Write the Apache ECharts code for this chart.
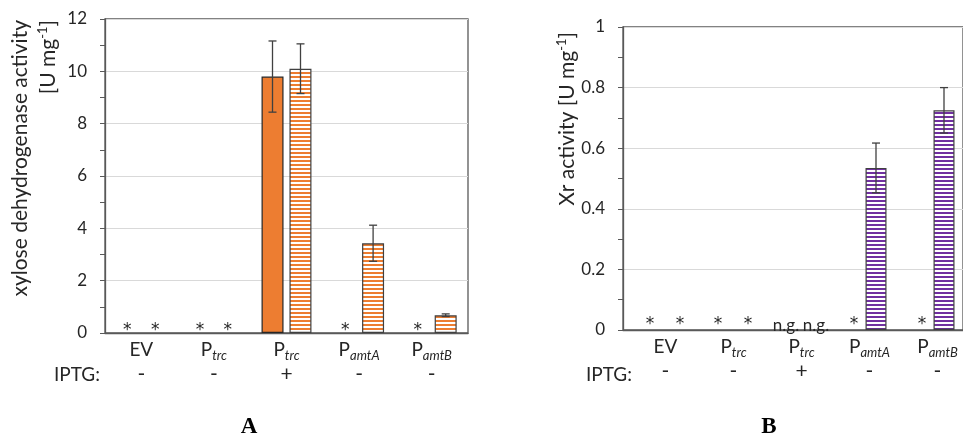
<!DOCTYPE html>
<html>
<head>
<meta charset="utf-8">
<script src="https://cdn.jsdelivr.net/npm/echarts@6/dist/echarts.min.js"></script>
<style>html,body{margin:0;padding:0;background:#fff}#c{width:963px;height:438px}</style>
</head>
<body>
<div id="c"></div>
<script>
// ---------- data ----------
const labelMain = ['EV', 'P', 'P', 'P', 'P'];
const labelSub = ['', 'trc', 'trc', 'amtA', 'amtB'];
const iptg = ['-', '-', '+', '-', '-'];

// Panel A: xylose dehydrogenase activity [U mg-1]
const aSolid = [0, 0, 9.8, 0, 0];
const aSolidErr = [0, 0, 1.36, 0, 0];
const aSolidMark = ['*', '*', '', '*', '*'];
const aStriped = [0, 0, 10.1, 3.43, 0.68];
const aStripedErr = [0, 0, 0.95, 0.69, 0.05];
const aStripedMark = ['*', '*', '', '', ''];

// Panel B: Xr activity [U mg-1]
const bSolid = [0, 0, 0, 0, 0];
const bSolidMark = ['*', '*', 'n.g.', '*', '*'];
const bStriped = [0, 0, 0, 0.535, 0.725];
const bStripedErr = [0, 0, 0, 0.082, 0.075];
const bStripedMark = ['*', '*', 'n.g.', '', ''];

const yTicksA = { min: 0, max: 12, interval: 2 };
const yTicksB = { min: 0, max: 1, interval: 0.2 };

// ---------- styles ----------
const FONT = 'Lato';
const TXT = '#262626';
const AXIS = '#595959';
const ORANGE = '#ED7D31';
const PURPLE = '#7030A0';

function stripes(color) {
  const c = document.createElement('canvas');
  c.width = 4; c.height = 4;
  const g = c.getContext('2d');
  g.fillStyle = '#ffffff'; g.fillRect(0, 0, 4, 4);
  g.fillStyle = color; g.fillRect(0, 0, 4, 2);
  return { image: c, repeat: 'repeat' };
}

const chart = echarts.init(document.getElementById('c'), null, { renderer: 'canvas' });

function catAxis(gridIndex, pad) {
  return {
    type: 'category', gridIndex, data: labelMain.map((m, i) => i),
    axisLine: { show: true, lineStyle: { color: AXIS, width: 1.3 } },
    axisTick: { show: false },
    axisLabel: {
      margin: 4, interval: 0, padding: [0, 0, 0, pad],
      formatter: (v, i) => `{m|${labelMain[i]}}{s|${labelSub[i]}}\n{g|${iptg[i]}}`,
      rich: {
        m: { fontFamily: FONT, fontSize: 19, color: TXT, lineHeight: 25 },
        s: { fontFamily: FONT, fontSize: 13, fontStyle: 'italic', color: TXT, lineHeight: 12, verticalAlign: 'bottom' },
        g: { fontFamily: FONT, fontSize: 21, color: TXT, lineHeight: 25 }
      }
    }
  };
}

function valAxis(gridIndex, t) {
  return {
    type: 'value', gridIndex, min: t.min, max: t.max, interval: t.interval,
    axisLine: { show: true, lineStyle: { color: AXIS, width: 1.3 } },
    axisTick: { show: true, inside: false, length: 5, lineStyle: { color: AXIS } },
    minorTick: { show: true, splitNumber: 2, length: 5, lineStyle: { color: AXIS } },
    axisLabel: { margin: 18, fontFamily: FONT, fontSize: 17, color: TXT },
    splitLine: { show: true, lineStyle: { color: '#d9d9d9', width: 1 } }
  };
}

function barSeries(idx, values, marks, color, borderColor, barWidth, barGap, labelOffset, labelDist) {
  return {
    type: 'bar', xAxisIndex: idx, yAxisIndex: idx, barWidth, barGap,
    data: values.map((v, i) => ({
      value: v,
      itemStyle: { color, borderColor, borderWidth: v === 0 ? 0 : 1.2 },
      label: marks[i] === 'n.g.' ? {
        show: true, formatter: marks[i], position: 'top', distance: -4, offset: labelOffset,
        fontFamily: FONT, fontSize: 17, color: TXT
      } : {
        show: marks[i] !== '', formatter: marks[i], position: 'top',
        distance: labelDist, offset: labelOffset,
        fontFamily: 'DejaVu Sans', fontSize: 17, color: TXT
      }
    })),
    silent: true, animation: false
  };
}

function errSeries(idx, values, errs, offset) {
  return {
    type: 'custom', xAxisIndex: idx, yAxisIndex: idx, z: 10, silent: true, animation: false,
    data: values.map((v, i) => [i, v, errs[i]]),
    encode: { x: 0, y: 1 },
    renderItem(params, api) {
      const i = api.value(0), v = api.value(1), e = api.value(2);
      if (!e) return null;
      const hi = api.coord([i, v + e]);
      const lo = api.coord([i, v - e]);
      const x = hi[0] + offset, cw = 4;
      const st = { stroke: '#404040', lineWidth: 1.3 };
      return {
        type: 'group', children: [
          { type: 'line', shape: { x1: x, y1: hi[1], x2: x, y2: lo[1] }, style: st },
          { type: 'line', shape: { x1: x - cw, y1: hi[1], x2: x + cw, y2: hi[1] }, style: st },
          { type: 'line', shape: { x1: x - cw, y1: lo[1], x2: x + cw, y2: lo[1] }, style: st }
        ]
      };
    }
  };
}

const supRich = { sup: { fontFamily: FONT, fontSize: 13, verticalAlign: 'top', lineHeight: 24, fill: TXT } };

// bar geometry: A width 22 gap 6 => offsets ±14 ; B width 21 gap 9 => ±15
const option = {
  animation: false,
  textStyle: { fontFamily: FONT },
  grid: [
    { left: 105, top: 19, width: 363, height: 314, show: true, borderColor: AXIS, borderWidth: 1.3 },
    { left: 623, top: 27, width: 345, height: 303, show: true, borderColor: AXIS, borderWidth: 1.3 }
  ],
  xAxis: [catAxis(0, 0), catAxis(1, 17)],
  yAxis: [valAxis(0, yTicksA), valAxis(1, yTicksB)],
  series: [
    barSeries(0, aSolid, aSolidMark, ORANGE, '#262626', 22, '27%', [0, 0], -6),
    barSeries(0, aStriped, aStripedMark, stripes(ORANGE), '#404040', 22, '27%', [0, 0], -6),
    errSeries(0, aSolid, aSolidErr, -14),
    errSeries(0, aStriped, aStripedErr, 14),
    barSeries(1, bSolid, bSolidMark, PURPLE, '#404040', 21, '43%', [8, 0], -3),
    barSeries(1, bStriped, bStripedMark, stripes(PURPLE), '#404040', 21, '43%', [8, 0], -3),
    errSeries(1, bStriped, bStripedErr, 15)
  ],
  graphic: [
    { type: 'text', x: 20, y: 20, rotation: Math.PI / 2,
      style: { text: 'xylose dehydrogenase activity', align: 'right', verticalAlign: 'middle', font: `21px ${FONT}`, fill: TXT } },
    { type: 'text', x: 48, y: 20, rotation: Math.PI / 2,
      style: { text: '[U mg{sup|-1}]', align: 'right', verticalAlign: 'middle', font: `21px ${FONT}`, fill: TXT, rich: supRich } },
    { type: 'text', x: 567, y: 32, rotation: Math.PI / 2,
      style: { text: 'Xr activity [U mg{sup|-1}]', align: 'right', verticalAlign: 'middle', font: `21px ${FONT}`, fill: TXT, rich: supRich } },
    { type: 'text', x: 77, y: 375, style: { text: 'IPTG:', align: 'center', verticalAlign: 'middle', font: `19px ${FONT}`, fill: TXT } },
    { type: 'text', x: 609, y: 375, style: { text: 'IPTG:', align: 'center', verticalAlign: 'middle', font: `19px ${FONT}`, fill: TXT } },
    { type: 'text', x: 249, y: 427, style: { text: 'A', align: 'center', verticalAlign: 'middle', font: `bold 23px "Liberation Serif"`, fill: '#000' } },
    { type: 'text', x: 769, y: 427, style: { text: 'B', align: 'center', verticalAlign: 'middle', font: `bold 23px "Liberation Serif"`, fill: '#000' } }
  ]
};
chart.setOption(option);
</script>
</body>
</html>
